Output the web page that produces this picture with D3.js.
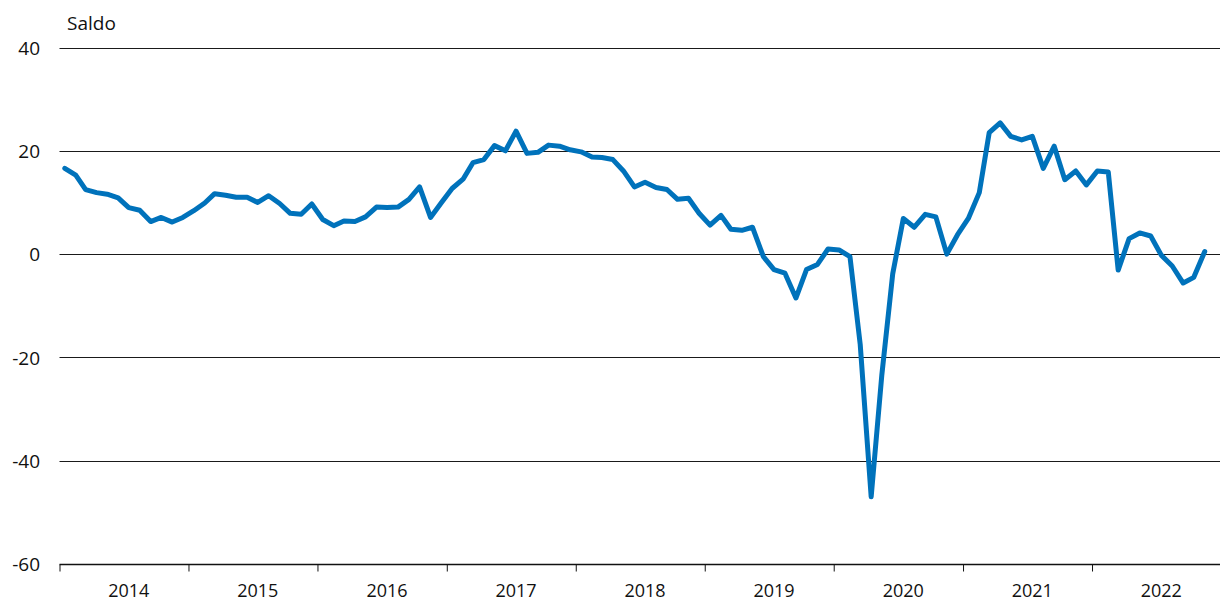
<!DOCTYPE html>
<html>
<head>
<meta charset="utf-8">
<script src="https://cdn.jsdelivr.net/npm/d3@7"></script>
<style>
  html, body { margin: 0; padding: 0; background: #fff; }
  svg { display: block; font-family: "Open Sans", "Noto Sans", sans-serif; }
</style>
</head>
<body>
<svg id="chart" width="1220" height="603"></svg>
<script>
// ---- Data ----
const startYear = 2014;
const years = ["2014", "2015", "2016", "2017", "2018", "2019", "2020", "2021", "2022"];
const yTicks = [-60, -40, -20, 0, 20, 40];
const yLabel = "Saldo";
// Monthly balance, Jan 2014 .. Nov 2022
const values = [
  16.6, 15.3, 12.5, 11.9, 11.6, 10.9, 9.0, 8.5, 6.3, 7.1, 6.2, 7.1,
  8.4, 9.9, 11.7, 11.4, 11.0, 11.0, 10.0, 11.3, 9.8, 7.9, 7.7, 9.7,
  6.7, 5.5, 6.4, 6.3, 7.2, 9.1, 9.0, 9.1, 10.6, 13.0, 7.1, 9.9,
  12.7, 14.5, 17.7, 18.3, 21.0, 20.0, 23.8, 19.5, 19.7, 21.1, 20.9, 20.2,
  19.8, 18.8, 18.7, 18.3, 16.1, 13.0, 13.9, 12.9, 12.5, 10.6, 10.8, 7.9,
  5.6, 7.5, 4.8, 4.6, 5.2, -0.5, -3.0, -3.7, -8.5, -3.0, -2.0, 1.0,
  0.8, -0.5, -17.5, -47.0, -23.5, -3.8, 6.9, 5.2, 7.7, 7.2, 0.0, 3.7,
  6.9, 11.9, 23.5, 25.4, 22.8, 22.1, 22.8, 16.6, 20.9, 14.4, 16.1, 13.4,
  16.1, 15.9, -3.1, 3.0, 4.1, 3.5, -0.2, -2.3, -5.6, -4.5, 0.5
];

// ---- Layout ----
const svg = d3.select("#chart");
const mLeft = 59.5, mRight = 1221, mTop = 47.5, mBottom = 564;

const x = d3.scaleTime()
  .domain([new Date(startYear, 0, 1), new Date(startYear + years.length, 0, 1)])
  .range([mLeft, mRight]);
const y = d3.scaleLinear().domain([-60, 40]).range([mBottom, mTop]);

const data = values.map((v, i) => ({ date: new Date(startYear, i, 16), value: v }));

// Gridlines
svg.append("g")
  .selectAll("line")
  .data(yTicks.filter(d => d !== -60))
  .join("line")
  .attr("x1", mLeft).attr("x2", 1220)
  .attr("y1", d => Math.round(y(d)) + 0.5).attr("y2", d => Math.round(y(d)) + 0.5)
  .attr("stroke", "#1a1a1a").attr("stroke-width", 1.2);

// Y labels
svg.append("g")
  .selectAll("text")
  .data(yTicks)
  .join("text")
  .attr("x", 40)
  .attr("y", d => y(d))
  .attr("dy", "0.38em")
  .attr("text-anchor", "end")
  .attr("font-size", 19)
  .attr("fill", "#111")
  .text(d => d);

// Y axis title
svg.append("text")
  .attr("x", 67).attr("y", 30)
  .attr("font-size", 19).attr("fill", "#111")
  .text(yLabel);

// X axis
const yearDates = d3.range(years.length + 1).map(i => new Date(startYear + i, 0, 1));
const xAxis = d3.axisBottom(x)
  .tickValues(yearDates)
  .tickSize(7)
  .tickFormat("");
const gx = svg.append("g")
  .attr("transform", `translate(0,${Math.round(mBottom) + 0.5})`)
  .call(xAxis);
gx.select(".domain").attr("stroke", "#111").attr("stroke-width", 1.5).attr("d", `M${mLeft},0H1220`);
gx.selectAll(".tick line").attr("stroke", "#111").attr("stroke-width", 1);

svg.append("g")
  .selectAll("text")
  .data(years)
  .join("text")
  .attr("x", d => x(new Date(+d, 6, 16)))
  .attr("y", 597)
  .attr("text-anchor", "middle")
  .attr("font-size", 18)
  .attr("fill", "#111")
  .text(d => d);

// Line
const line = d3.line().x(d => x(d.date)).y(d => y(d.value));
svg.append("path")
  .datum(data)
  .attr("d", line)
  .attr("fill", "none")
  .attr("stroke", "#0072bb")
  .attr("stroke-width", 5)
  .attr("stroke-linejoin", "round")
  .attr("stroke-linecap", "round");
</script>
</body>
</html>
